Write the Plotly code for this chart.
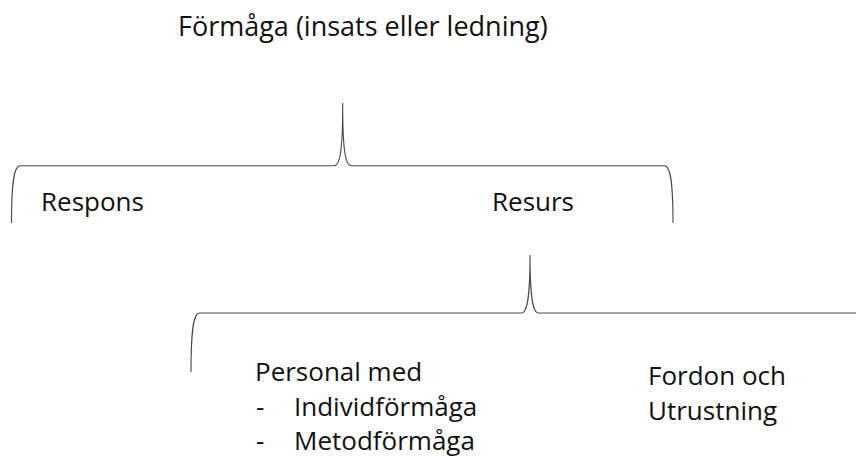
import plotly.graph_objects as go

# Braces: left x, right x, tip x, horizontal y, tip y, end y (page pixel space)
brace_left = [11.5, 191]
brace_right = [673, 900]
brace_tip = [342.7, 530]
brace_line_y = [165.7, 313]
brace_tip_y = [103, 255]
brace_end_y = [223, 372]

# Labels (left x, cap-centre y)
label_text = ["Förmåga (insats eller ledning)", "Respons", "Resurs", "Personal med",
              "-", "Individförmåga", "-", "Metodförmåga", "Fordon och", "Utrustning"]
label_x = [176, 39, 490, 253, 254, 292, 254, 292, 646, 646]
label_y = [25, 201, 201, 371, 406, 406, 440, 440, 375, 410]
label_size = [27, 26, 26, 26, 26, 26, 26, 26, 26, 26]

FONT = "Open Sans"
OFF = 8  # default body margin of the page
W, H = 864 - OFF, 459 - OFF

fig = go.Figure()
shapes = []
r = 8.5
for xl, xr, xt, yl, yt, ye in zip(brace_left, brace_right, brace_tip, brace_line_y, brace_tip_y, brace_end_y):
    path = (f"M {xl},{ye} C {xl},{yl+20} {xl+2},{yl} {xl+r},{yl} "
            f"L {xt-r},{yl} C {xt-2},{yl} {xt},{yl-20} {xt},{yt} "
            f"C {xt},{yl-20} {xt+2},{yl} {xt+r},{yl} "
            f"L {xr-r},{yl} C {xr-2},{yl} {xr},{yl+20} {xr},{ye}")
    shapes.append(dict(type="path", path=path, xref="x", yref="y",
                       line=dict(color="#4a4a4a", width=1.1)))

annotations = []
for t, x, y, s in zip(label_text, label_x, label_y, label_size):
    annotations.append(dict(text=t, x=x, y=y, xref="x", yref="y", showarrow=False,
                            xanchor="left", yanchor="middle",
                            font=dict(family=FONT, size=s, color="#111111")))

fig.add_trace(go.Scatter(x=[OFF, 864], y=[OFF, 459], mode="markers",
                         marker=dict(opacity=0), hoverinfo="skip", showlegend=False))
fig.update_layout(width=W, height=H, margin=dict(l=0, r=0, t=0, b=0),
                  paper_bgcolor="white", plot_bgcolor="white",
                  shapes=shapes, annotations=annotations,
                  xaxis=dict(range=[OFF, 864], visible=False, fixedrange=True),
                  yaxis=dict(range=[459, OFF], visible=False, fixedrange=True))
fig.write_html("out.html")
